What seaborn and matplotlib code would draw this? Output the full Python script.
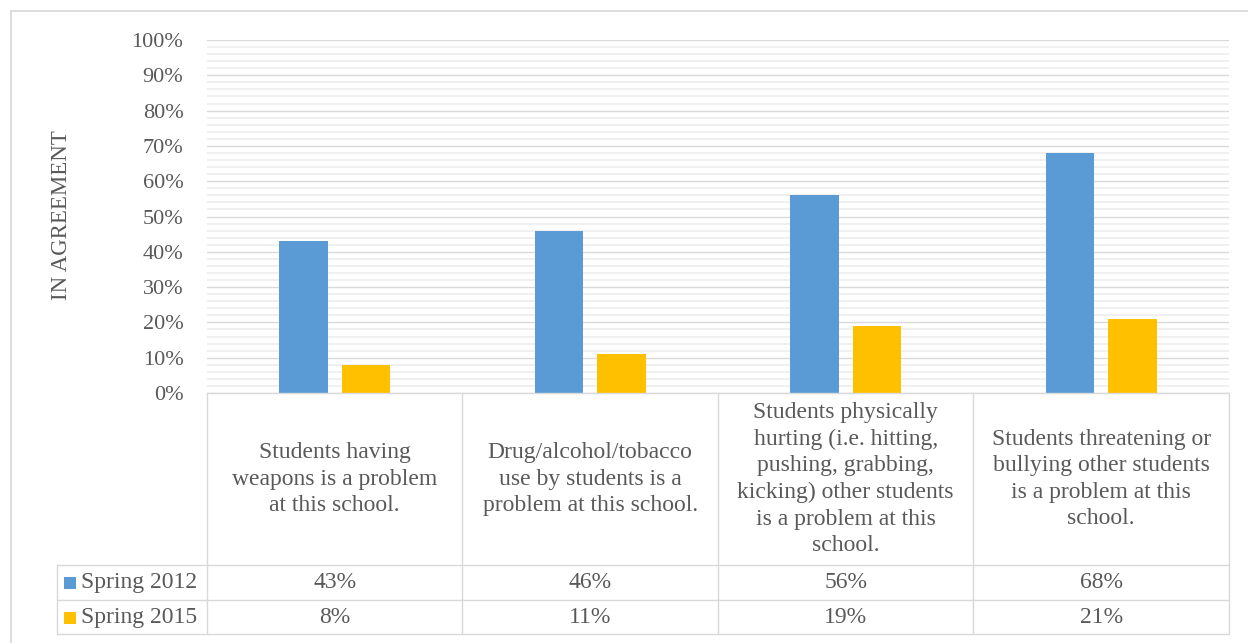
import matplotlib
matplotlib.use("Agg")
import matplotlib.pyplot as plt
from matplotlib.lines import Line2D
from matplotlib.patches import Rectangle
from matplotlib.ticker import MultipleLocator, FuncFormatter
import pandas as pd
import seaborn as sns

# ---- data -------------------------------------------------------------
categories = [
    "Students having\nweapons is a problem\nat this school.",
    "Drug/alcohol/tobacco\nuse by students is a\nproblem at this school.",
    "Students physically\nhurting (i.e. hitting,\npushing, grabbing,\nkicking) other students\nis a problem at this\nschool.",
    "Students threatening or\nbullying other students\nis a problem at this\nschool.",
]
series_names = ["Spring 2012", "Spring 2015"]
spring_2012 = [43, 46, 56, 68]
spring_2015 = [8, 11, 19, 21]
y_ticks = [0, 10, 20, 30, 40, 50, 60, 70, 80, 90, 100]
y_title = "IN AGREEMENT"

colors = ["#5B9BD5", "#FFC000"]
text_color = "#595959"
line_color = "#d9d9d9"

df = pd.DataFrame({
    "category": categories * 2,
    "series": [series_names[0]] * 4 + [series_names[1]] * 4,
    "value": spring_2012 + spring_2015,
})

sns.set_theme(style="white")
plt.rcParams["font.family"] = ["Liberation Serif", "DejaVu Serif"]

W, H = 1248, 643
fig = plt.figure(figsize=(W / 100, H / 100), dpi=100)


def fx(px):
    return px / W


def fy(py):
    return 1 - py / H


ax = fig.add_axes([fx(207), fy(393), fx(1229) - fx(207), fy(40) - fy(393)])

sns.barplot(
    data=df, x="category", y="value", hue="series",
    order=categories, hue_order=series_names,
    palette=colors, saturation=1, width=0.49, gap=0.22,
    linewidth=0, legend=False, ax=ax,
)

ax.set_xlim(-0.5, len(categories) - 0.5)
ax.set_ylim(0, 100)
ax.set_yticks(y_ticks)
ax.yaxis.set_major_formatter(FuncFormatter(lambda v, _: f"{v:.0f}%"))
ax.yaxis.set_minor_locator(MultipleLocator(2))
ax.grid(which="major", axis="y", color=line_color, linewidth=1.0)
ax.grid(which="minor", axis="y", color="#ececec", linewidth=1.1)
ax.set_axisbelow(True)
ax.tick_params(axis="y", which="both", length=0, pad=17,
               labelsize=16, labelcolor=text_color)
ax.set_xticks([])
ax.set_xlabel("")
ax.set_ylabel("")
for s in ax.spines.values():
    s.set_visible(False)

fig.text(fx(62), fy(215), y_title, rotation=90, ha="center", va="center",
         fontsize=16.5, color=text_color)

# ---- data table below the plot --------------------------------------
to_fig = fig.transFigure.inverted()


def data_x_to_fig(x):
    return to_fig.transform(ax.transData.transform((x, 0)))[0]


col_edges = [data_x_to_fig(i - 0.5) for i in range(len(categories) + 1)]
left_edge = fx(57)
table_top, header_bottom, row1_bottom, row2_bottom = fy(393), fy(565), fy(600), fy(634)


def hline(x0, x1, y):
    fig.add_artist(Line2D([x0, x1], [y, y], color=line_color, linewidth=1.0,
                          transform=fig.transFigure))


def vline(x, y0, y1):
    fig.add_artist(Line2D([x, x], [y0, y1], color=line_color, linewidth=1.0,
                          transform=fig.transFigure))


hline(col_edges[0], col_edges[-1], table_top)
for y in (header_bottom, row1_bottom, row2_bottom):
    hline(left_edge, col_edges[-1], y)
for x in col_edges:
    vline(x, table_top, row2_bottom)
vline(left_edge, header_bottom, row2_bottom)

for i, cat in enumerate(categories):
    xc = data_x_to_fig(i)
    fig.text(xc, fy(479), cat, ha="center", va="center", fontsize=17,
             color=text_color, linespacing=1.35, multialignment="center")

row_centers = [fy(582.5), fy(617.5)]
for values, name, color, yc in zip([spring_2012, spring_2015], series_names,
                                   colors, row_centers):
    fig.add_artist(Rectangle((fx(64), yc - 6 / H), 12 / W, 12 / H,
                             facecolor=color, edgecolor="none",
                             transform=fig.transFigure))
    fig.text(fx(81), yc, name, ha="left", va="center", fontsize=17,
             color=text_color)
    for i, v in enumerate(values):
        fig.text(data_x_to_fig(i), yc, f"{v}%", ha="center", va="center",
                 fontsize=17, color=text_color)

# outer chart frame
fig.add_artist(Line2D([fx(11), 1], [fy(11), fy(11)], color=line_color,
                      linewidth=1.3, transform=fig.transFigure))
fig.add_artist(Line2D([fx(11), fx(11)], [fy(11), 0], color=line_color,
                      linewidth=1.3, transform=fig.transFigure))

fig.savefig("out.png", dpi=100, facecolor="white")
